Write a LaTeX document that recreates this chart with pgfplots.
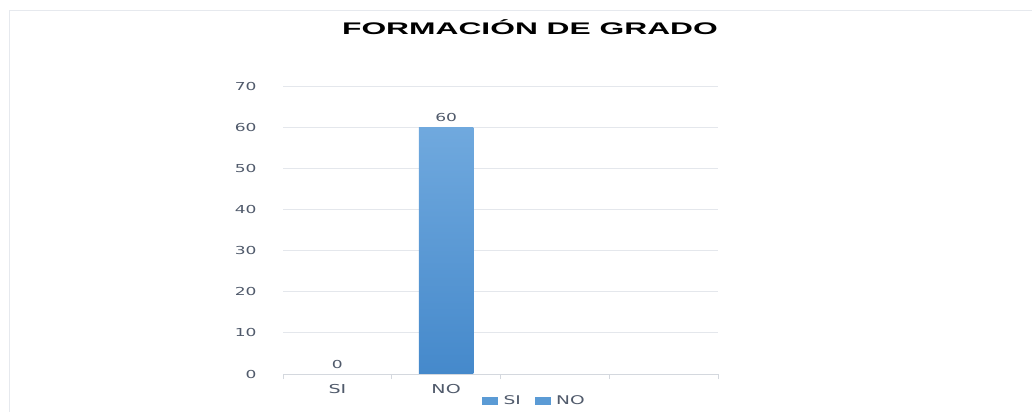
\documentclass[border=0pt]{standalone}
\usepackage{fontspec}
\setmainfont[FakeStretch=1.55]{DejaVu Sans}
\newfontfamily\titlefont[FakeStretch=1.89]{Liberation Sans}
\usepackage{pgfplots}
\pgfplotsset{compat=1.18}
\definecolor{textgray}{HTML}{505A6B}
\definecolor{gridgray}{HTML}{E4E7EC}
\definecolor{axisgray}{HTML}{D4D8DE}
\definecolor{framegray}{HTML}{E6E9EE}
\definecolor{bartop}{HTML}{70A9DE}
\definecolor{barbot}{HTML}{4589CB}
\definecolor{legblue}{HTML}{5B9BD5}
\begin{document}
\begin{tikzpicture}
\path[use as bounding box] (0,0) rectangle (1032pt,412pt);
\draw[framegray, line width=1.5pt] (9.5pt,0pt) -- (9.5pt,401.5pt) -- (1032pt,401.5pt);
\node[font=\titlefont\bfseries\fontsize{16.8}{18}\selectfont, anchor=base] at (530pt,377pt) {FORMACIÓN DE GRADO};
\begin{axis}[
  at={(283pt,38pt)}, anchor=south west,
  scale only axis, width=435pt, height=288pt,
  ybar,
  xmin=-0.5, xmax=3.5, ymin=0, ymax=70,
  ytick={0,10,...,70},
  xtick={-0.5,0.5,1.5,2.5,3.5},
  x tick label as interval,
  xticklabels={SI,NO,{},{}},
  axis x line*=bottom, axis y line*=left,
  y axis line style={draw=none},
  x axis line style={axisgray, line width=0.8pt},
  ytick style={draw=none},
  xtick style={axisgray, line width=0.8pt},
  tick align=outside, major tick length=5pt,
  ymajorgrids, grid style={gridgray, line width=0.8pt},
  /pgf/number format/assume math mode=true,
  ticklabel style={font=\fontsize{11}{12}\selectfont, text=textgray},
  xticklabel style={font=\fontsize{12.3}{13}\selectfont, yshift=-2pt},
  yticklabel style={anchor=east, xshift=-18pt},
  nodes near coords,
  every node near coord/.append style={font=\fontsize{11}{12}\selectfont, text=textgray, yshift=2pt},
  legend style={at={(axis description cs:0.578,-0.094)}, anchor=center, draw=none, fill=none,
    legend columns=2, font=\fontsize{12}{13}\selectfont, text=textgray,
    /tikz/every odd column/.append style={column sep=4pt},
    /tikz/every even column/.append style={column sep=12pt}},
  legend image code/.code={\fill[legblue] (-4pt,-3.5pt) rectangle (11pt,3.5pt);},
]
\addplot[bar shift=0pt, bar width=0.5, draw=none, fill=none, forget plot] coordinates {(0,0)};
\addplot[bar shift=0pt, bar width=0.5, draw=none, top color=bartop, bottom color=barbot, forget plot] coordinates {(1,60)};
\addlegendimage{legblue}
\addlegendentry{SI}
\addlegendimage{legblue}
\addlegendentry{NO}
\end{axis}
\end{tikzpicture}
\end{document}
